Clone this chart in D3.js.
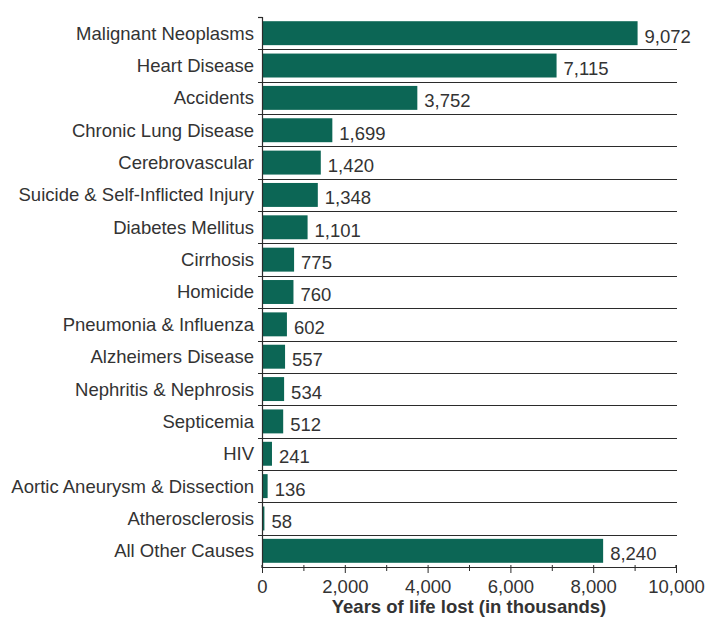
<!DOCTYPE html>
<html><head><meta charset="utf-8">
<script src="https://cdn.jsdelivr.net/npm/d3@7"></script>
<style>body{margin:0;background:#fff;}svg{display:block;font-family:"Liberation Sans",Arial,sans-serif;}</style>
</head><body>
<svg id="c" width="707" height="619"></svg>
<script>
const categories = ["Malignant Neoplasms","Heart Disease","Accidents","Chronic Lung Disease","Cerebrovascular","Suicide & Self-Inflicted Injury","Diabetes Mellitus","Cirrhosis","Homicide","Pneumonia & Influenza","Alzheimers Disease","Nephritis & Nephrosis","Septicemia","HIV","Aortic Aneurysm & Dissection","Atherosclerosis","All Other Causes"];
const values = [9072,7115,3752,1699,1420,1348,1101,775,760,602,557,534,512,241,136,58,8240];
const majorTicks = [0,2000,4000,6000,8000,10000];
const minorTicks = [1000,3000,5000,7000,9000];
const axisTitle = "Years of life lost (in thousands)";

(function(){
const svg = d3.select("#c");
const mL = 262, mR = 676, mT = 17, mB = 567;
const fs = 18.5;
const x = d3.scaleLinear().domain([0,10000]).range([mL,mR]);
const y = d3.scaleBand().domain(categories).range([mT,mB]).paddingInner(0.26).paddingOuter(0.13);
const ink = "#2b2b2b";

svg.selectAll("rect.bar").data(categories).join("rect")
  .attr("x", x(0)).attr("y", d=>y(d))
  .attr("width", (d,i)=>x(values[i])-x(0)).attr("height", y.bandwidth())
  .attr("fill", "#0c6655");

const step = (mB-mT)/categories.length;
for (let i=1;i<categories.length;i++){
  const yy = Math.round(mT+i*step)+0.5;
  svg.append("line").attr("x1",mL-4).attr("x2",mR+1).attr("y1",yy).attr("y2",yy).attr("stroke",ink).attr("stroke-width",1.2);
}
svg.append("line").attr("x1",mL+0.5).attr("x2",mL+0.5).attr("y1",mT).attr("y2",mB).attr("stroke",ink).attr("stroke-width",1.2);
svg.append("line").attr("x1",mL-4).attr("x2",mL+0.5).attr("y1",mT+0.5).attr("y2",mT+0.5).attr("stroke",ink).attr("stroke-width",1.2);

svg.selectAll("text.cat").data(categories).join("text")
  .attr("x", mL-8).attr("y", d=>y(d)+y.bandwidth()/2).attr("dy","0.35em")
  .attr("text-anchor","end").attr("font-size",fs).attr("fill","#333").text(d=>d);

svg.selectAll("text.val").data(categories).join("text")
  .attr("x", (d,i)=>x(values[i])+7).attr("y", d=>y(d)+y.bandwidth()/2+3).attr("dy","0.35em")
  .attr("font-size",fs).attr("fill","#333").text((d,i)=>d3.format(",")(values[i]));

const axis = svg.append("g").attr("transform",`translate(0,${mB})`)
  .call(d3.axisBottom(x).tickValues(majorTicks).tickFormat(d3.format(",")).tickSize(6).tickPadding(7));
axis.select(".domain").attr("stroke",ink).attr("stroke-width",1.2).attr("d",`M${mL},-2V0.5H${mR}V-2`);
axis.selectAll(".tick line").attr("stroke",ink).attr("y1",-2);
axis.selectAll(".tick text").attr("font-size",fs).attr("fill","#333").attr("font-family","Liberation Sans, Arial, sans-serif");
svg.append("g").selectAll("line").data(minorTicks).join("line")
  .attr("x1",d=>x(d)+0.5).attr("x2",d=>x(d)+0.5).attr("y1",mB-2).attr("y2",mB+4)
  .attr("stroke",ink);

svg.append("text").attr("x",(mL+mR)/2).attr("y",613).attr("text-anchor","middle")
  .attr("font-size",fs).attr("font-weight","bold").attr("fill","#333").text(axisTitle);
})();
</script>
</body></html>
